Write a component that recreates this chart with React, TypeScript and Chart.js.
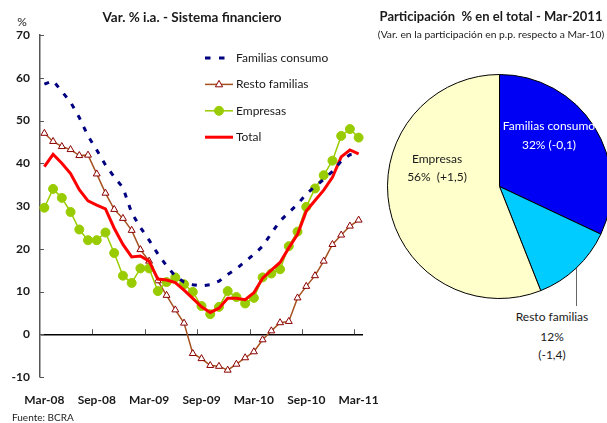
import React, { useEffect, useRef } from "react";
import { Chart, registerables } from "chart.js";
Chart.register(...registerables);

const months = [
  "Mar-08", "Abr-08", "May-08", "Jun-08", "Jul-08", "Ago-08", "Sep-08", "Oct-08", "Nov-08", "Dic-08", "Ene-09", "Feb-09",
  "Mar-09", "Abr-09", "May-09", "Jun-09", "Jul-09", "Ago-09", "Sep-09", "Oct-09", "Nov-09", "Dic-09", "Ene-10", "Feb-10",
  "Mar-10", "Abr-10", "May-10", "Jun-10", "Jul-10", "Ago-10", "Sep-10", "Oct-10", "Nov-10", "Dic-10", "Ene-11", "Feb-11",
  "Mar-11",
];
const familiasConsumo = [58.5, 59.3, 56.8, 54.3, 50.7, 46.4, 43.1, 39.6, 36.8, 34.3, 28.4, 25.0, 22.0, 18.8, 16.0, 13.6, 12.2, 11.6, 11.3, 11.6, 12.4, 14.0, 15.3, 17.0, 18.7, 20.6, 23.6, 26.5, 28.5, 30.4, 32.8, 34.6, 36.2, 38.1, 40.5, 42.0, 42.2];
const restoFamilias = [47.0, 45.1, 43.9, 43.2, 41.8, 41.9, 37.5, 33.0, 29.2, 27.1, 24.3, 19.8, 17.1, 12.5, 9.1, 5.7, 2.6, -4.5, -5.7, -7.3, -7.5, -8.4, -7.0, -5.5, -4.1, -1.3, 0.8, 2.7, 3.0, 8.5, 11.2, 13.7, 17.1, 21.0, 23.2, 25.3, 26.7];
const empresas = [29.6, 34.0, 31.9, 28.6, 24.5, 22.0, 22.0, 23.8, 19.0, 13.7, 12.0, 15.4, 15.4, 10.1, 12.2, 13.3, 11.7, 9.9, 6.6, 4.7, 6.4, 10.1, 8.7, 7.2, 8.5, 13.3, 14.2, 15.2, 20.6, 24.0, 29.8, 34.1, 37.2, 40.6, 46.4, 48.0, 46.0];
const total = [39.2, 42.1, 40.0, 37.6, 33.8, 31.2, 30.2, 29.3, 24.8, 21.0, 18.1, 18.3, 17.1, 12.9, 12.7, 12.1, 10.3, 8.4, 6.4, 5.1, 6.1, 8.4, 8.4, 8.1, 9.7, 13.1, 15.0, 16.8, 20.2, 23.4, 28.8, 31.3, 33.7, 36.7, 41.5, 43.1, 42.2];
const yMin = -10;
const yMax = 70;
const yStep = 10;
const labelEvery = 6;

const pieLabels = ["Familias consumo", "Resto familias", "Empresas"];
const pieShares = [32, 12, 56];
const pieChanges = ["(-0,1)", "(-1,4)", "(+1,5)"];

const FONT = "Lato, 'DejaVu Sans', sans-serif";
const TXT = "#1a1a1a";

const tickMarks = {
  id: "tickMarks",
  beforeDatasetsDraw(chart: any) {
    const { ctx, scales } = chart;
    const x = scales.x;
    const y = scales.y;
    ctx.save();
    ctx.strokeStyle = "#555";
    ctx.lineWidth = 1;
    ctx.beginPath();
    y.ticks.forEach((t: any) => {
      const py = Math.round(y.getPixelForValue(t.value)) + 0.5;
      ctx.moveTo(y.right, py);
      ctx.lineTo(y.right + 4, py);
    });
    const y0 = y.getPixelForValue(0);
    const half = (x.getPixelForValue(1) - x.getPixelForValue(0)) / 2;
    for (let i = labelEvery; i < months.length; i += labelEvery) {
      const px = Math.round(x.getPixelForValue(i) - half) + 0.5;
      ctx.moveTo(px, y0);
      ctx.lineTo(px, y0 - 5);
    }
    ctx.stroke();
    ctx.restore();
  },
};

const insideLegend = {
  id: "insideLegend",
  afterDraw(chart: any) {
    const { ctx, chartArea } = chart;
    const x0 = chartArea.left + 165;
    let yy = chartArea.top + 23;
    ctx.save();
    chart.data.datasets.forEach((ds: any) => {
      ctx.save();
      ctx.strokeStyle = ds.borderColor;
      ctx.lineWidth = ds.borderWidth;
      if (ds.borderDash) {
        ctx.setLineDash([5.5, 8.5]);
        ctx.beginPath();
        ctx.moveTo(x0, yy);
        ctx.lineTo(x0 + 20, yy);
        ctx.stroke();
      } else {
        ctx.beginPath();
        ctx.moveTo(x0, yy);
        ctx.lineTo(x0 + 28, yy);
        ctx.stroke();
      }
      ctx.restore();
      if (ds.pointRadius > 0) {
        ctx.save();
        ctx.fillStyle = ds.pointBackgroundColor;
        ctx.strokeStyle = ds.pointBorderColor;
        ctx.lineWidth = ds.pointBorderWidth || 1;
        const cx = x0 + 14;
        const r = ds.pointRadius;
        ctx.beginPath();
        if (ds.pointStyle === "triangle") {
          ctx.moveTo(cx, yy - r);
          ctx.lineTo(cx + r * 0.9, yy + r * 0.6);
          ctx.lineTo(cx - r * 0.9, yy + r * 0.6);
          ctx.closePath();
        } else {
          ctx.arc(cx, yy, r, 0, Math.PI * 2);
        }
        ctx.fill();
        ctx.stroke();
        ctx.restore();
      }
      ctx.fillStyle = TXT;
      ctx.font = `12px ${FONT}`;
      ctx.textBaseline = "middle";
      ctx.textAlign = "left";
      ctx.fillText(ds.label, x0 + 31, yy);
      yy += 26.4;
    });
    ctx.restore();
  },
};

function Label(props: { x: number; y: number; text: string; size?: number; bold?: boolean; color?: string; align?: string }) {
  const { x, y, text, size = 12, bold = false, color = TXT, align = "center" } = props;
  const tr = align === "center" ? "translateX(-50%)" : align === "right" ? "translateX(-100%)" : "none";
  return (
    <div
      style={{
        position: "absolute",
        left: x,
        top: y - size * 0.6,
        transform: tr,
        fontSize: size,
        lineHeight: `${size * 1.2}px`,
        fontWeight: bold ? 700 : 400,
        color,
        whiteSpace: "pre",
        fontFamily: FONT,
      }}
    >
      {text}
    </div>
  );
}

export default function App() {
  const lineRef = useRef<HTMLCanvasElement>(null);
  const pieRef = useRef<HTMLCanvasElement>(null);

  useEffect(() => {
    const font = { family: FONT, size: 12, weight: "bold" as const };
    const lineChart = new Chart(lineRef.current as HTMLCanvasElement, {
      type: "line",
      data: {
        labels: months,
        datasets: [
          { label: "Familias consumo", data: familiasConsumo, borderColor: "#000080", borderWidth: 3, borderDash: [5, 8], pointRadius: 0, order: 0, tension: 0 } as any,
          { label: "Resto familias", data: restoFamilias, borderColor: "#a5501e", borderWidth: 1.5, pointStyle: "triangle", pointRadius: 4, pointBackgroundColor: "#ffffff", pointBorderColor: "#8b0000", pointBorderWidth: 1, order: 3, tension: 0 },
          { label: "Empresas", data: empresas, borderColor: "#99cc00", borderWidth: 1.5, pointRadius: 4.5, pointBackgroundColor: "#99cc00", pointBorderColor: "#99cc00", pointBorderWidth: 1, order: 2, tension: 0 },
          { label: "Total", data: total, borderColor: "#ff0000", borderWidth: 3, pointRadius: 0, order: 1, tension: 0 },
        ],
      },
      options: {
        responsive: false,
        animation: false,
        events: [],
        layout: { padding: { top: 35, left: 0, right: 17, bottom: 0 } },
        plugins: { legend: { display: false }, tooltip: { enabled: false } },
        scales: {
          x: {
            offset: true,
            grid: { display: false },
            border: { display: false },
            ticks: {
              autoSkip: false,
              maxRotation: 0,
              minRotation: 0,
              padding: 8,
              font,
              color: TXT,
              callback: (_v: any, i: number) => (i % labelEvery === 0 ? months[i] : ""),
            },
            afterFit: (s: any) => {
              s.height = 46;
              s.paddingLeft = 0;
              s.paddingRight = 0;
            },
          },
          y: {
            min: yMin,
            max: yMax,
            ticks: { stepSize: yStep, padding: 10, font, color: TXT },
            grid: {
              drawTicks: false,
              color: (c: any) => (c.tick && c.tick.value === 0 ? "#000000" : "rgba(0,0,0,0)"),
              lineWidth: 1.5,
            },
            border: { color: "#555", width: 1.5 },
            afterFit: (s: any) => {
              s.width = 40;
              s.paddingTop = 0;
              s.paddingBottom = 0;
            },
          },
        },
      },
      plugins: [tickMarks, insideLegend],
    });

    const pieChart = new Chart(pieRef.current as HTMLCanvasElement, {
      type: "pie",
      data: {
        labels: pieLabels,
        datasets: [
          {
            data: pieShares,
            backgroundColor: ["#0000f5", "#00ccff", "#ffffcc"],
            borderColor: "#000000",
            borderWidth: 1,
          },
        ],
      },
      options: {
        responsive: false,
        animation: false,
        events: [],
        rotation: 0,
        plugins: { legend: { display: false }, tooltip: { enabled: false } },
      },
    });

    return () => {
      lineChart.destroy();
      pieChart.destroy();
    };
  }, []);

  return (
    <div style={{ position: "fixed", left: 0, top: 0, width: 607, height: 423, overflow: "hidden", background: "#fff", fontFamily: FONT }}>
      <canvas ref={lineRef} width={380} height={423} style={{ position: "absolute", left: 0, top: 0, width: 380, height: 423 }} />
      <canvas ref={pieRef} width={225} height={225} style={{ position: "absolute", left: 387, top: 74, width: 225, height: 225 }} />
      <Label x={192} y={17} text="Var. % i.a. - Sistema financiero" bold size={13.5} />
      <Label x={22} y={22} text="%" size={12} />
      <Label x={12} y={417} text="Fuente: BCRA" size={10} align="left" />
      <Label x={491} y={17} text={"Participación  % en el total - Mar-2011"} bold size={13} />
      <Label x={491} y={34} text="(Var. en la participación en p.p. respecto a Mar-10)" size={10.3} />
      <Label x={549} y={126} text={pieLabels[0]} color="#ffffff" />
      <Label x={549} y={145} text={`${pieShares[0]}% ${pieChanges[0]}`} color="#ffffff" />
      <Label x={437} y={159} text={pieLabels[2]} />
      <Label x={437} y={177} text={`${pieShares[2]}%  ${pieChanges[2]}`} />
      <Label x={552} y={317} text={pieLabels[1]} />
      <Label x={552} y={337} text={`${pieShares[1]}%`} />
      <Label x={552} y={355} text={pieChanges[1]} />
      <div style={{ position: "absolute", left: 576, top: 268, width: 1, height: 38, background: "#666" }} />
    </div>
  );
}
